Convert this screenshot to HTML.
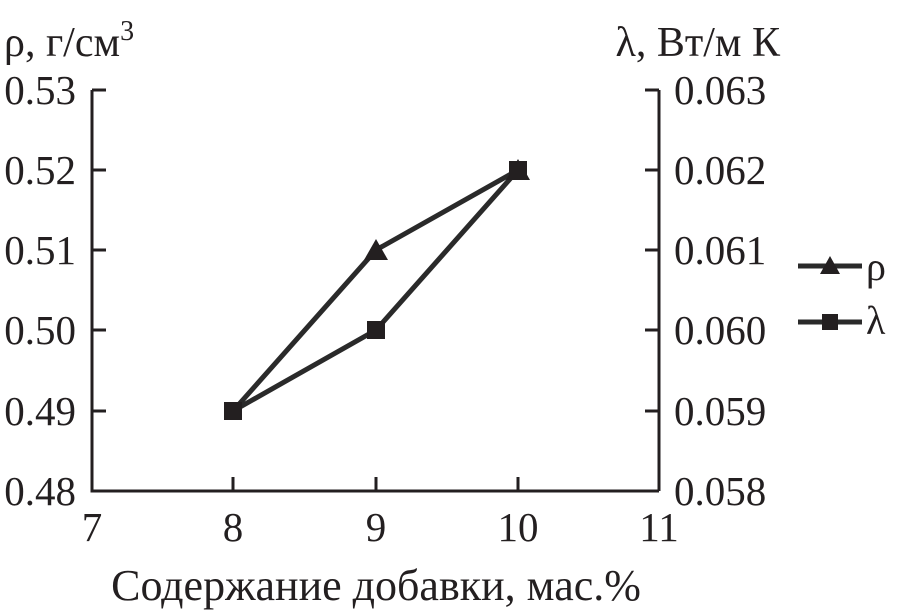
<!DOCTYPE html>
<html><head><meta charset="utf-8"><style>body{margin:0;background:#fff}svg{display:block}text{font-family:"Liberation Serif",serif;fill:#231f20}</style></head>
<body>
<svg width="900" height="614" viewBox="0 0 900 614" xmlns="http://www.w3.org/2000/svg">
<g stroke="#231f20" stroke-width="3" fill="none">
<polyline points="92,90 92,491 659,491"/>
<polyline points="659,90 659,491"/>
<line x1="92" y1="90" x2="106" y2="90"/><line x1="92" y1="170" x2="106" y2="170"/><line x1="92" y1="250" x2="106" y2="250"/><line x1="92" y1="330" x2="106" y2="330"/><line x1="92" y1="411" x2="106" y2="411"/>
<line x1="645" y1="90" x2="659" y2="90"/><line x1="645" y1="170" x2="659" y2="170"/><line x1="645" y1="250" x2="659" y2="250"/><line x1="645" y1="330" x2="659" y2="330"/><line x1="645" y1="411" x2="659" y2="411"/>
<line x1="233" y1="477" x2="233" y2="491"/><line x1="376" y1="477" x2="376" y2="491"/><line x1="518" y1="477" x2="518" y2="491"/>
</g>
<g stroke="#2a2a2a" stroke-width="5" fill="none">
<polyline points="233,411 376,250 518,170"/>
<polyline points="233,411 376,330 518,170"/>
<line x1="798" y1="266" x2="862" y2="266"/>
<line x1="798" y1="322" x2="862" y2="322"/>
</g>
<g fill="#231f20">
<polygon points="376,239 388,260 364,260"/><polygon points="518,159 530,180 506,180"/>
<rect x="224" y="402" width="18" height="18"/><rect x="367" y="321" width="18" height="18"/><rect x="509" y="161" width="18" height="18"/>
<polygon points="830,256 840,274 820,274"/><rect x="822" y="314" width="16" height="16"/>
</g>
<g font-size="41" text-anchor="end">
<text x="76" y="104">0.53</text><text x="76" y="184">0.52</text><text x="76" y="264">0.51</text><text x="76" y="344">0.50</text><text x="76" y="425">0.49</text><text x="76" y="505">0.48</text>
</g>
<g font-size="41" text-anchor="start">
<text x="674" y="104">0.063</text><text x="674" y="184">0.062</text><text x="674" y="264">0.061</text><text x="674" y="344">0.060</text><text x="674" y="425">0.059</text><text x="674" y="505">0.058</text>
</g>
<g font-size="41" text-anchor="middle">
<text x="92" y="541">7</text><text x="233" y="541">8</text><text x="376" y="541">9</text><text x="518" y="541">10</text><text x="659" y="541">11</text>
</g>
<text x="376" y="600" font-size="44" text-anchor="middle">Содержание добавки, мас.%</text>
<text x="4" y="56" font-size="42">ρ, г/см<tspan font-size="28" dy="-16">3</tspan></text>
<text x="780" y="56" font-size="42" text-anchor="end">λ, Вт/м К</text>
<text x="866" y="280" font-size="40">ρ</text>
<text x="866" y="334" font-size="40">λ</text>
</svg>
</body></html>
